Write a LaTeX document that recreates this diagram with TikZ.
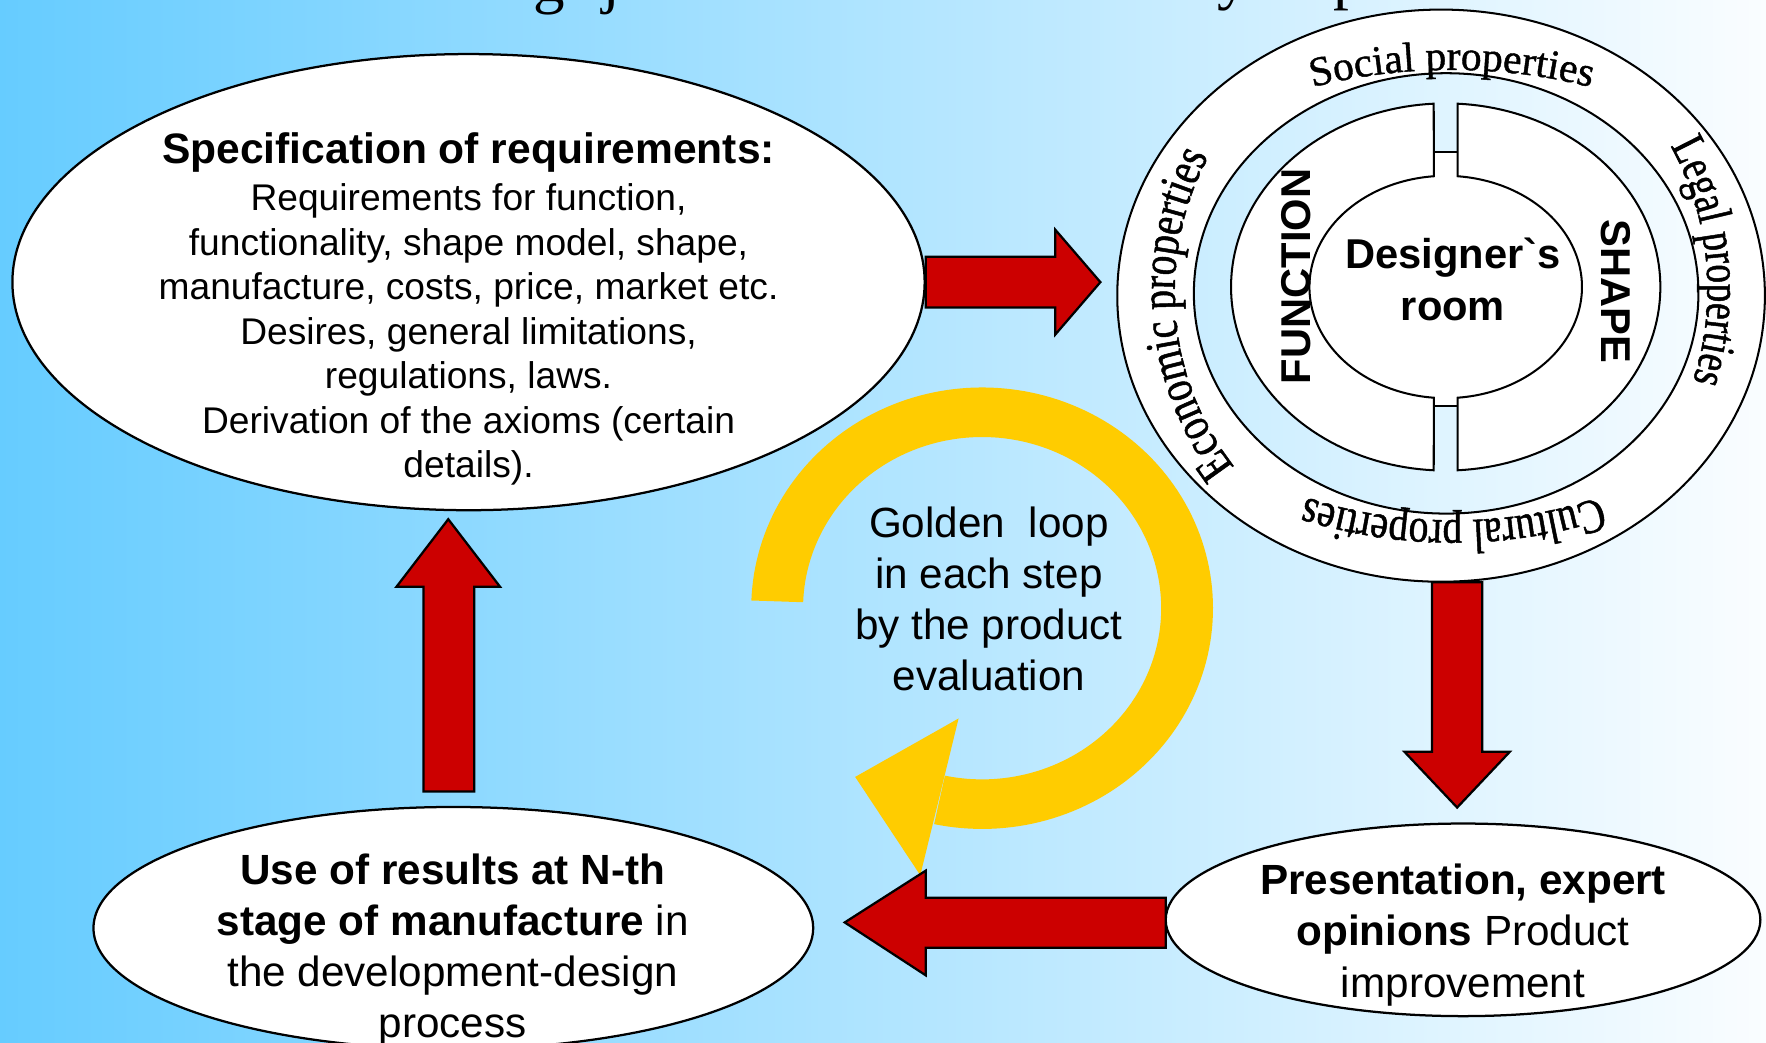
\documentclass[tikz,border=0pt]{standalone}
\usepackage{fontspec}
\setmainfont{Liberation Serif}
\setsansfont{Liberation Sans}
\newfontfamily\socfont[FakeBold=1]{Liberation Serif}
\newfontfamily\ecofont[FakeStretch=0.8,FakeBold=1]{Liberation Serif}
\newfontfamily\legfont[FakeStretch=0.77,FakeBold=1]{Liberation Serif}
\newfontfamily\culfont[FakeStretch=0.82,FakeBold=1]{Liberation Serif}
\usetikzlibrary{decorations.text,shapes.geometric}
\definecolor{bgblue}{RGB}{102,204,255}
\definecolor{bgwhite}{RGB}{250,253,255}
\definecolor{arrowred}{RGB}{204,0,0}
\definecolor{loopgold}{RGB}{255,204,0}
\tikzset{
  bubble/.style={ellipse, draw=black, line width=2pt, fill=white, inner sep=0pt},
  redarrow/.style={fill=arrowred, draw=black, line width=2pt, line join=miter},
  ringline/.style={draw=black, line width=1.8pt},
  txt/.style={font=\sffamily\fontsize{37.5}{45.5}\selectfont, align=center, inner sep=0pt, anchor=north},
  boldlbl/.style={font=\sffamily\bfseries\fontsize{37}{46}\selectfont, align=center, inner sep=0pt},
  titlefrag/.style={font=\rmfamily\fontsize{56}{60}\selectfont, anchor=base, inner sep=0pt},
  ringtext/.style={decorate, decoration={text along path, text align=center, text={#1}}},
}
\begin{document}
\begin{tikzpicture}[x=1pt,y=-1pt]
\useasboundingbox (0,0) rectangle (1568,926);
\clip (0,0) rectangle (1568,926);
\shade[left color=bgblue, right color=bgwhite] (0,0) rectangle (1568,926);

% fragments of the clipped title
\node[titlefrag] (ttlg) at (488,1) {g};
\node[titlefrag] (ttlj) at (543,1) {j};
\node[titlefrag] (ttly) at (1095,-2) {y};
\node[titlefrag] (ttlp) at (1198,-2) {p};

% bubbles
\node[bubble, minimum width=810pt, minimum height=405pt] (spec) at (416,250.5) {};
\node[txt, font=\sffamily\fontsize{33}{39.5}\selectfont] (spectxt) at (416,117.5)
  {\textbf{\fontsize{37.8}{39.5}\selectfont Specification of requirements:}\\[2.5pt]
   Requirements for function,\\ functionality, shape model, shape,\\
   manufacture, costs, price, market etc.\\ Desires, general limitations,\\
   regulations, laws.\\ Derivation of the axioms (certain\\ details).};

\node[bubble, minimum width=639pt, minimum height=215pt] (use) at (402.5,824) {};
\node[txt] (usetxt) at (402,757.7)
  {\textbf{Use of results at N-th}\\\textbf{stage of manufacture} in\\the development-design\\process};

\node[bubble, minimum width=528pt, minimum height=171pt] (pres) at (1299,816.7) {};
\node[txt] (prestxt) at (1299,767)
  {\textbf{Presentation, expert}\\\textbf{opinions} Product\\improvement};

% property ring
\fill[white, even odd rule] (1279.5,262.5) ellipse[x radius=287.5pt, y radius=254pt]
                            (1284,260.5) ellipse[x radius=224pt, y radius=195.5pt];
\node[ellipse, ringline, minimum width=575pt, minimum height=508pt, inner sep=0pt] (props) at (1279.5,262.5) {};
\node[ellipse, ringline, minimum width=448pt, minimum height=391pt, inner sep=0pt] (ringin) at (1284,260.5) {};

\path[ringtext={|\socfont\fontsize{37}{40}\selectfont|Social properties}]
  plot[domain=240:300, samples=150] ({1289+320*cos(\x)},{261+199*sin(\x)});
\path[ringtext={|\legfont\fontsize{43}{46}\selectfont|Legal properties}]
  plot[domain=294:414, samples=150] ({1281+235*cos(\x)},{257+250*sin(\x)});
\path[ringtext={|\culfont\fontsize{43}{46}\selectfont|Cultural properties}]
  plot[domain=45:135, samples=150] ({1290+300*cos(\x)},{257+205*sin(\x)});
\path[ringtext={|\ecofont\fontsize{44}{50}\selectfont|Economic properties}]
  plot[domain=115:235, samples=150] ({1283+240*cos(\x)},{259+248*sin(\x)});

% designer's room with tabs
\fill[white] (1283.6,254.8) ellipse[x radius=121pt, y radius=98.7pt];
\fill[white] (1273,134.7) rectangle (1294.2,170);
\fill[white] (1273,340) rectangle (1294.2,360.6);
\draw[ringline] (1273,134.7) -- (1294.2,134.7);
\draw[ringline] (1273,360.6) -- (1294.2,360.6);

% FUNCTION half
\path[ringline, fill=white] plot[domain=266.8:93.2, samples=90] ({1283.6+190.6*cos(\x)},{254.8+163*sin(\x)})
  -- plot[domain=95:265, samples=90] ({1283.6+121*cos(\x)},{254.8+98.7*sin(\x)}) -- cycle;
% SHAPE half
\path[ringline, fill=white] plot[domain=-86.8:86.8, samples=90] ({1283.6+190.6*cos(\x)},{254.8+163*sin(\x)})
  -- plot[domain=85:-85, samples=90] ({1283.6+121*cos(\x)},{254.8+98.7*sin(\x)}) -- cycle;

\node[boldlbl, anchor=north] (room) at (1290,211) {Designer\textasciigrave s\\room};
\node[boldlbl, rotate=90] (func) at (1151,245.5) {FUNCTION};
\node[boldlbl, rotate=-90] (shape) at (1435,259) {SHAPE};

% golden loop
\fill[loopgold] plot[domain=182:462, samples=160] ({872+205*cos(\x)},{540+196*sin(\x)})
  -- plot[domain=462:182, samples=160] ({872+159*cos(\x)},{540+152*sin(\x)}) -- cycle;
\fill[loopgold] (759.3,689.8) -- (851.1,637.9) -- (817.1,777.1) -- cycle;
\node[txt] (goldtxt) at (878,449.5) {Golden~~loop\\in each step\\by the product\\evaluation};

% red block arrows
\draw[redarrow] (spec.east) ++(0,-22.5) -- ++(115,0) -- ++(0,-24) -- ++(40,46.5)
  -- ++(-40,46.5) -- ++(0,-24) -- ++(-115,0) -- cycle;
\coordinate (ringbot) at (1293.75,517);
\draw[redarrow] (ringbot) ++(-22.25,0) -- ++(0,150.5) -- ++(-24.5,0) -- ++(46.75,49.5)
  -- ++(46.75,-49.5) -- ++(-24.5,0) -- ++(0,-150.5) -- cycle;
\draw[redarrow] (pres.west) ++(1,-19.7) -- ++(-213,0) -- ++(0,-24) -- ++(-72,46)
  -- ++(72,47) -- ++(0,-24.5) -- ++(213,0) -- cycle;
\coordinate (upstart) at (398.5,702.8);
\draw[redarrow] (upstart) ++(-22.5,0) -- ++(0,-181.8) -- ++(-24,0) -- ++(46,-60)
  -- ++(46,60) -- ++(-23,0) -- ++(0,181.8) -- cycle;
\end{tikzpicture}
\end{document}
